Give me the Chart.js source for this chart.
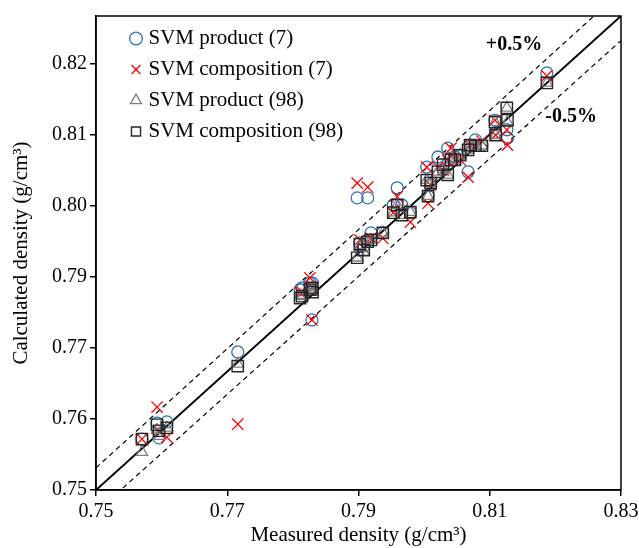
<!DOCTYPE html>
<html><head><meta charset="utf-8">
<script src="https://cdn.jsdelivr.net/npm/chart.js@4.4.1/dist/chart.umd.min.js"></script>
<style>html,body{margin:0;padding:0;background:#fff}</style>
</head><body>
<canvas id="c" width="639" height="548"></canvas>
<script>
// ---- data ----
const measured = [0.7570,0.7593,0.7596,0.7608,0.7716,0.7811,0.7814,0.7826,0.7829,0.7830,0.7898,0.7902,0.7908,0.7914,0.7919,0.7937,0.7953,0.7959,0.7966,0.7979,0.8004,0.8006,0.8010,0.8021,0.8029,0.8036,0.8041,0.8047,0.8055,0.8067,0.8070,0.8078,0.8088,0.8108,0.8109,0.8126,0.8127,0.8187];
const svmProduct7 = [0.7586,0.7613,0.7588,0.7615,0.7733,0.7838,0.7841,0.7849,0.7787,0.7849,0.7993,0.7917,0.7912,0.7993,0.7934,0.7934,0.7981,0.8010,0.7981,0.7968,0.8045,0.7996,0.8015,0.8062,0.8040,0.8077,0.8060,0.8062,0.8065,0.8037,0.8082,0.8091,0.8082,0.8124,0.8103,0.8108,0.8094,0.8204];
const svmComposition7 = [0.7586,0.7640,0.7600,0.7589,0.7611,0.7833,0.7834,0.7858,0.7787,0.7841,0.8018,0.7922,0.7908,0.8011,0.7925,0.7925,0.7968,0.7995,0.7973,0.7952,0.8045,0.7984,0.8015,0.8045,0.8040,0.8057,0.8077,0.8057,0.8057,0.8028,0.8082,0.8082,0.8089,0.8124,0.8099,0.8108,0.8082,0.8199];
const svmProduct98 = [0.7564,0.7601,0.7591,0.7605,0.7713,0.7829,0.7827,0.7838,0.7841,0.7834,0.7892,0.7910,0.7902,0.7920,0.7922,0.7934,0.7968,0.7981,0.7964,0.7969,0.8023,0.7996,0.8018,0.8037,0.8040,0.8032,0.8060,0.8057,0.8065,0.8074,0.8082,0.8081,0.8081,0.8121,0.8099,0.8145,0.8121,0.8187];
const svmComposition98 = [0.7586,0.7610,0.7600,0.7605,0.7709,0.7824,0.7827,0.7838,0.7841,0.7834,0.7892,0.7915,0.7905,0.7919,0.7922,0.7934,0.7968,0.7981,0.7964,0.7969,0.8023,0.7996,0.8018,0.8037,0.8049,0.8032,0.8057,0.8057,0.8065,0.8074,0.8082,0.8081,0.8081,0.8121,0.8099,0.8145,0.8124,0.8187];

const seriesNames = ['SVM product (7)','SVM composition (7)','SVM product (98)','SVM composition (98)'];

const xTickValues = [0.75,0.77,0.79,0.81,0.83];
const xTickLabels = ['0.75','0.77','0.79','0.81','0.83'];
const yTickValues = [0.75,0.762,0.774,0.786,0.798,0.810,0.822];
const yTickLabels = ['0.75','0.76','0.77','0.79','0.80','0.81','0.82'];

const parityLine = [[0.75,0.75],[0.83,0.83]];
const upperLine  = [[0.75,0.75375],[0.83,0.83415]];
const lowerLine  = [[0.75,0.74625],[0.83,0.82585]];
const bandLabels = [{text:'+0.5%', x:0.8137, y:0.8251},{text:'-0.5%', x:0.8224, y:0.8130}];

// ---- chart ----
const FONT = '"Liberation Serif", "Times New Roman", serif';
const pts = ys => measured.map((m,i)=>({x:m, y:ys[i]}));
const line = arr => arr.map(p=>({x:p[0], y:p[1]}));

const framePlugin = {
  id:'frame',
  afterDraw(chart){
    const {ctx, chartArea:a, scales:{x,y}} = chart;
    ctx.save();
    ctx.strokeStyle='#000'; ctx.lineWidth=1.5;
    ctx.strokeRect(a.left, a.top, a.right-a.left, a.bottom-a.top);
    ctx.fillStyle='#000';
    ctx.font='bold 20px '+FONT;
    ctx.textAlign='center'; ctx.textBaseline='middle';
    bandLabels.forEach(l=>ctx.fillText(l.text, x.getPixelForValue(l.x), y.getPixelForValue(l.y)));
    ctx.restore();
  }
};
const legendPlace = {
  id:'legendPlace',
  afterLayout(chart){
    const lg = chart.legend, a = chart.chartArea;
    if(!lg) return;
    const w = lg.width, h = lg.height;
    lg.left = a.left + 28; lg.top = a.top + 2;
    lg.right = lg.left + w; lg.bottom = lg.top + h;
  }
};

new Chart(document.getElementById('c'), {
  type:'scatter',
  data:{ datasets:[
    {label:seriesNames[0], data:pts(svmProduct7), pointStyle:'circle', pointRadius:6, pointHoverRadius:6,
     borderColor:'#2E75B6', backgroundColor:'rgba(0,0,0,0)', borderWidth:1.3, order:4},
    {label:seriesNames[1], data:pts(svmComposition7), pointStyle:'crossRot', pointRadius:8, pointHoverRadius:8,
     borderColor:'#FF0000', backgroundColor:'rgba(0,0,0,0)', borderWidth:1.3, order:3},
    {label:seriesNames[2], data:pts(svmProduct98), pointStyle:'triangle', pointRadius:6.5, pointHoverRadius:6.5,
     borderColor:'#7F7F7F', backgroundColor:'rgba(0,0,0,0)', borderWidth:1.3, order:2},
    {label:seriesNames[3], data:pts(svmComposition98), pointStyle:'rect', pointRadius:8, pointHoverRadius:8,
     borderColor:'#262626', backgroundColor:'rgba(0,0,0,0)', borderWidth:1.4, order:1},
    {label:'y=x', data:line(parityLine), showLine:true, pointRadius:0, borderColor:'#000', borderWidth:2, order:10},
    {label:'+0.5%', data:line(upperLine), showLine:true, pointRadius:0, borderColor:'#000', borderWidth:1.2, borderDash:[5,4], order:10},
    {label:'-0.5%', data:line(lowerLine), showLine:true, pointRadius:0, borderColor:'#000', borderWidth:1.2, borderDash:[5,4], order:10}
  ]},
  options:{
    responsive:false, animation:false, devicePixelRatio:1,
    layout:{padding:{top:16, right:18, bottom:0, left:0}},
    plugins:{
      tooltip:{enabled:false},
      legend:{
        position:'chartArea', align:'start',
        labels:{
          usePointStyle:true, boxWidth:4, boxHeight:9, padding:10, color:'#000',
          font:{family:FONT, size:21},
          filter:item=>item.datasetIndex<4,
          sort:(a,b)=>a.datasetIndex-b.datasetIndex
        }
      }
    },
    scales:{
      x:{
        type:'linear', min:0.75, max:0.83,
        afterBuildTicks:s=>{ s.ticks = xTickValues.map(v=>({value:v})); },
        afterFit:s=>{ s.height = 58; s.paddingLeft = 0; s.paddingRight = 0; },
        ticks:{callback:(v,i)=>xTickLabels[i], color:'#000', font:{family:FONT, size:20}, padding:4, maxRotation:0, autoSkip:false},
        grid:{drawOnChartArea:false, drawTicks:true, tickLength:6, color:'#000', lineWidth:1.5},
        border:{display:true, color:'#000', width:1.5},
        title:{display:true, text:'Measured density (g/cm³)', color:'#000', font:{family:FONT, size:21}, padding:{top:0, bottom:0}}
      },
      y:{
        type:'linear', min:0.75, max:0.83,
        afterBuildTicks:s=>{ s.ticks = yTickValues.map(v=>({value:v})); },
        afterFit:s=>{ s.width = 96; s.paddingTop = 0; s.paddingBottom = 0; },
        ticks:{callback:(v,i)=>yTickLabels[i], color:'#000', font:{family:FONT, size:20}, padding:3, autoSkip:false},
        grid:{drawOnChartArea:false, drawTicks:true, tickLength:6, color:'#000', lineWidth:1.5},
        border:{display:true, color:'#000', width:1.5},
        title:{display:true, text:'Calculated density (g/cm³)', color:'#000', font:{family:FONT, size:21}, padding:{top:9, bottom:0}}
      }
    }
  },
  plugins:[framePlugin, legendPlace]
});
</script>
</body></html>
